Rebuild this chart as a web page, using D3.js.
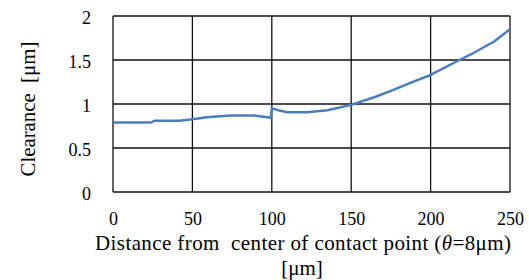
<!DOCTYPE html>
<html>
<head>
<meta charset="utf-8">
<script src="https://cdn.jsdelivr.net/npm/d3@7"></script>
</head>
<body style="margin:0">
<svg width="529" height="280" id="vis"></svg>
<script>
// values
var distance  = [0, 10, 24, 26, 42, 50, 59, 74, 88, 99.5, 100, 104, 110, 122, 135, 150, 165, 175, 190, 200, 216, 225, 240, 250];
var clearance = [0.79, 0.79, 0.79, 0.81, 0.81, 0.826, 0.85, 0.87, 0.87, 0.845, 0.95, 0.93, 0.905, 0.905, 0.928, 0.99, 1.08, 1.15, 1.26, 1.33, 1.48, 1.56, 1.71, 1.85];
var xTicks = [0, 50, 100, 150, 200, 250];
var yTicks = [0, 0.5, 1, 1.5, 2];

var margin = {top: 16, right: 19, bottom: 88, left: 113},
    width = 529 - margin.left - margin.right,
    height = 280 - margin.top - margin.bottom;

const svg = d3.select("#vis")
  .append("g")
  .attr("transform", `translate(${margin.left},${margin.top})`);

const x = d3.scaleLinear().domain([0, 250]).range([0, width]);
const y = d3.scaleLinear().domain([0, 2]).range([height, 0]);

// grid
svg.append("g")
  .selectAll("line")
  .data(xTicks)
  .join("line")
  .attr("x1", d => x(d)).attr("x2", d => x(d))
  .attr("y1", 0).attr("y2", height)
  .attr("stroke", "#111").attr("stroke-width", 1.3);

svg.append("g")
  .selectAll("line")
  .data(yTicks)
  .join("line")
  .attr("x1", 0).attr("x2", width)
  .attr("y1", d => y(d)).attr("y2", d => y(d))
  .attr("stroke", "#111").attr("stroke-width", 1.3);

// tick labels
svg.append("g")
  .attr("transform", `translate(0, ${height})`)
  .call(d3.axisBottom(x).tickValues(xTicks).tickSize(0).tickPadding(20).tickFormat(d3.format("")))
  .call(g => g.select(".domain").remove())
  .selectAll("text")
  .attr("fill", "#000")
  .style("font-family", "Liberation Serif")
  .style("font-size", "18px");

svg.append("g")
  .call(d3.axisLeft(y).tickValues(yTicks).tickSize(0).tickPadding(22).tickFormat(d3.format("")))
  .call(g => g.select(".domain").remove())
  .selectAll("text")
  .attr("dy", "0.4em")
  .attr("fill", "#000")
  .style("font-family", "Liberation Serif")
  .style("font-size", "18px");

// the curve
svg.append("path")
  .datum(distance.map((d, i) => [d, clearance[i]]))
  .attr("fill", "none")
  .attr("stroke", "#4a7ebb")
  .attr("stroke-width", 2.5)
  .attr("stroke-linejoin", "round")
  .attr("d", d3.line().x(d => x(d[0])).y(d => y(d[1])));

// axis titles
let xt = svg.append("text")
  .attr("x", 190)
  .attr("y", height + 58)
  .attr("text-anchor", "middle")
  .attr("textLength", 416)
  .attr("lengthAdjust", "spacing")
  .style("font-family", "Liberation Serif")
  .style("font-size", "21px");
xt.append("tspan").text("Distance from\u00A0 center of contact point (");
xt.append("tspan").style("font-style", "italic").text("θ");
xt.append("tspan").text("=8μm)");

svg.append("text")
  .attr("x", 189)
  .attr("y", height + 83)
  .attr("text-anchor", "middle")
  .style("font-family", "Liberation Serif")
  .style("font-size", "21px")
  .text("[μm]");

svg.append("text")
  .attr("transform", `translate(${-78}, ${93}) rotate(-90)`)
  .attr("text-anchor", "middle")
  .attr("textLength", 135)
  .attr("lengthAdjust", "spacing")
  .style("font-family", "Liberation Serif")
  .style("font-size", "21px")
  .text("Clearance\u00A0 [μm]");
</script>
</body>
</html>
